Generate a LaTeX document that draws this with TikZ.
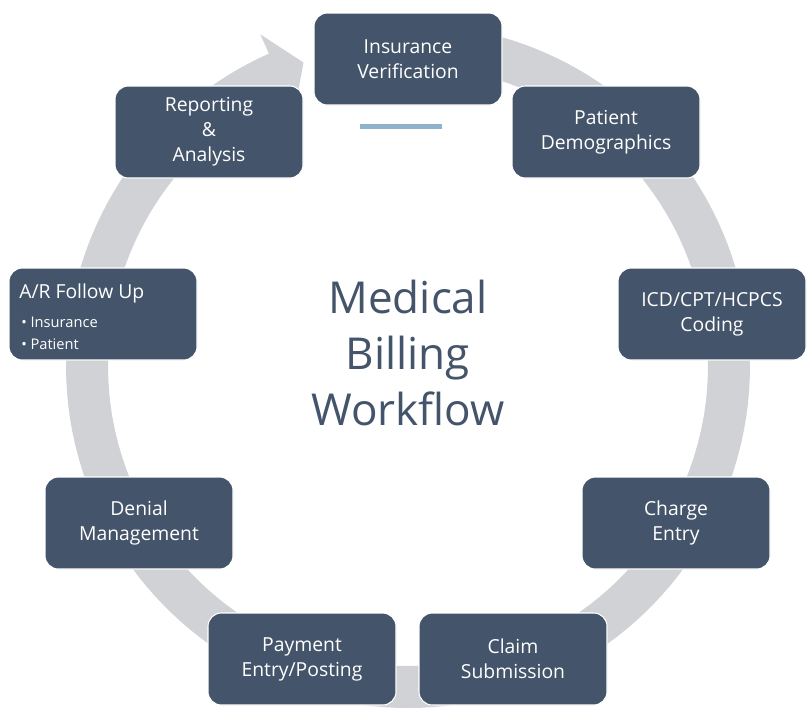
\documentclass[tikz,border=0pt]{standalone}
\usepackage{fontspec}
\setmainfont{Open Sans}
\definecolor{boxfill}{RGB}{68,84,106}
\definecolor{ringgray}{RGB}{208,210,214}
\definecolor{accentline}{RGB}{143,178,205}
\begin{document}
\begin{tikzpicture}[x=0.75pt,y=-0.75pt,
  stepbox/.style={fill=boxfill, draw=white, line width=0.8pt, rounded corners=10pt,
    minimum width=141pt, minimum height=69pt, inner sep=0pt, text=white,
    align=center, font=\fontsize{14.5}{18.75}\selectfont},
  boxtext/.style={text=white, inner sep=0pt, align=left},
  title/.style={text=boxfill, align=center, font=\fontsize{33}{42}\selectfont}]
\useasboundingbox (0,0) rectangle (809,708);
\fill[white] (0,0) rectangle (809,708);

% circular arrow band behind the steps
\fill[ringgray]
  plot[domain=5:336,samples=160] ({408+342*sin(\x)},{366-342*cos(\x)})
  -- ({408+363*sin(336)},{366-363*cos(336)})
  -- ({408+321*sin(341)},{366-321*cos(341)})
  -- ({408+279*sin(336)},{366-279*cos(336)})
  -- plot[domain=336:5,samples=160] ({408+300*sin(\x)},{366-300*cos(\x)})
  -- cycle;

% workflow steps
\node[stepbox] (n1) at (408,59)  {Insurance\\Verification};
\node[stepbox] (n2) at (606,132) {Patient\\Demographics};
\node[stepbox] (n3) at (712,314) {ICD/CPT/HCPCS\\Coding};
\node[stepbox] (n4) at (676,523) {Charge\\Entry};
\node[stepbox] (n5) at (513,659) {Claim\\Submission};
\node[stepbox] (n6) at (302,659) {Payment\\Entry/Posting};
\node[stepbox] (n7) at (139,523) {Denial\\Management};
\node[stepbox] (n8) at (103,314) {};
\node[stepbox] (n9) at (209,132) {Reporting\\\&\\Analysis};

% A/R step with its sub-items
\node[boxtext, anchor=west, font=\fontsize{14.5}{18.75}\selectfont] (n8a) at (19,293) {A/R Follow Up};
\node[boxtext, anchor=north west, font=\fontsize{11}{16.5}\selectfont] (n8b) at (21,317) {• Insurance\\• Patient};

% accent bar under the first step
\fill[accentline] (360,124) rectangle (442,129);

% centre title
\node[title] (t) at (408,353) {Medical\\Billing\\Workflow};
\end{tikzpicture}
\end{document}
